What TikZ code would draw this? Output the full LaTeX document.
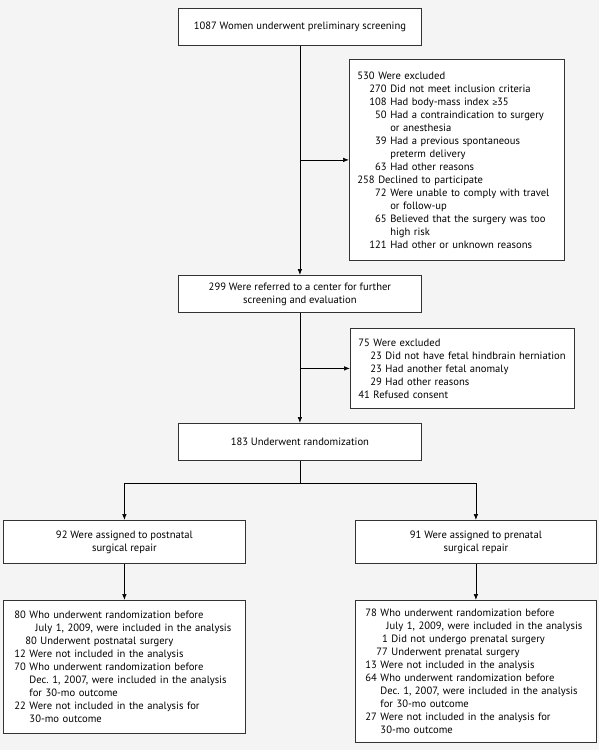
\documentclass[tikz,border=0pt]{standalone}
\usepackage{fontspec}
\setmainfont{PT Sans}
\newfontfamily\symf{Liberation Sans}
\usetikzlibrary{arrows.meta}
\definecolor{bgc}{HTML}{F4F4F4}
\definecolor{edgec}{HTML}{333333}
\newlength\numw
\newlength\subind
\setlength\subind{12pt}
\newcommand\LA[2]{\mbox{\makebox[\numw][r]{#1}\ #2}}
\newcommand\LB[2]{\mbox{\hspace*{\subind}\makebox[\numw][r]{#1}\ #2}}
\newcommand\CA[1]{\mbox{\hspace*{\numw}\ #1}}
\newcommand\CB[1]{\mbox{\hspace*{\subind}\hspace*{\numw}\ #1}}
\newcommand\CX[1]{\mbox{\hspace*{\numw}\ \hspace*{6pt}#1}}
\tikzset{
  box/.style={draw=edgec, fill=white, line width=0.8pt, inner sep=0pt,
    anchor=north west, font=\fontsize{10.6}{13}\selectfont\frenchspacing},
  cbox/.style={box, align=center},
  lbox/.style={box, align=left},
  arr/.style={draw=black, line width=0.7pt, -{Latex[length=6pt,width=4.5pt]}},
  ln/.style={draw=black, line width=0.7pt}
}
\begin{document}
\begin{tikzpicture}[x=1pt,y=-1pt]
\fill[bgc] (0,0) rectangle (599,750);
\useasboundingbox (0,0) rectangle (599,750);
% main column
\node[cbox, minimum width=243pt, minimum height=37pt] (A) at (178,8)
  {1087 Women underwent preliminary screening};
\node[lbox, minimum width=215pt, minimum height=201pt, text width=199pt, inner xsep=8pt] (E1) at (349,59)
  {\settowidth\numw{000}%
   \LA{530}{Were excluded}\\
   \LB{270}{Did not meet inclusion criteria}\\
   \LB{108}{Had body-mass index {\symf\fontsize{8.5}{13}\selectfont ≥}35}\\
   \LB{50}{Had a contraindication to surgery}\\
   \CB{or anesthesia}\\
   \LB{39}{Had a previous spontaneous}\\
   \CB{preterm delivery}\\
   \LB{63}{Had other reasons}\\
   \LA{258}{Declined to participate}\\
   \LB{72}{Were unable to comply with travel}\\
   \CB{or follow-up}\\
   \LB{65}{Believed that the surgery was too}\\
   \CB{high risk}\\
   \LB{121}{Had other or unknown reasons}};
\node[cbox, minimum width=243pt, minimum height=37pt] (B) at (178,275)
  {299 Were referred to a center for further\\screening and evaluation};
\node[lbox, minimum width=224pt, minimum height=80pt, text width=208pt, inner xsep=8pt] (E2) at (350,328)
  {\settowidth\numw{00}%
   \LA{75}{Were excluded}\\
   \LB{23}{Did not have fetal hindbrain herniation}\\
   \LB{23}{Had another fetal anomaly}\\
   \LB{29}{Had other reasons}\\
   \LA{41}{Refused consent}};
\node[cbox, minimum width=243pt, minimum height=37pt] (R) at (178,423)
  {183 Underwent randomization};
% arms
\node[cbox, minimum width=242pt, minimum height=43pt] (P1) at (3,520)
  {92 Were assigned to postnatal\\surgical repair};
\node[cbox, minimum width=241pt, minimum height=43pt] (P2) at (355,520)
  {91 Were assigned to prenatal\\surgical repair};
\node[lbox, minimum width=242pt, minimum height=133pt, text width=220pt, inner xsep=11pt] (Q1) at (3,600)
  {\settowidth\numw{00}\setlength\subind{11pt}%
   \LA{80}{Who underwent randomization before}\\
   \CX{July 1, 2009, were included in the analysis}\\
   \LB{80}{Underwent postnatal surgery}\\
   \LA{12}{Were not included in the analysis}\\
   \LA{70}{Who underwent randomization before}\\
   \CA{Dec. 1, 2007, were included in the analysis}\\
   \CA{for 30-mo outcome}\\
   \LA{22}{Were not included in the analysis for}\\
   \CA{30-mo outcome}};
\node[lbox, minimum width=241pt, minimum height=142pt, text width=221pt, inner xsep=10pt] (Q2) at (355,600)
  {\settowidth\numw{00}\setlength\subind{11pt}%
   \LA{78}{Who underwent randomization before}\\
   \CX{July 1, 2009, were included in the analysis}\\
   \LB{1}{Did not undergo prenatal surgery}\\
   \LB{77}{Underwent prenatal surgery}\\
   \LA{13}{Were not included in the analysis}\\
   \LA{64}{Who underwent randomization before}\\
   \CA{Dec. 1, 2007, were included in the analysis}\\
   \CA{for 30-mo outcome}\\
   \LA{27}{Were not included in the analysis for}\\
   \CA{30-mo outcome}};
% connectors
\coordinate (split) at (R.south |- 0,483);
\draw[arr] (A.south) -- (A.south |- B.north);
\draw[arr] (A.south |- E1.west) -- (E1.west);
\draw[arr] (B.south) -- (B.south |- R.north);
\draw[arr] (B.south |- E2.west) -- (E2.west);
\draw[ln] (R.south) -- (split);
\draw[arr] (split) -| (P1.north);
\draw[arr] (split) -| (P2.north);
\draw[arr] (P1.south) -- (Q1.north);
\draw[arr] (P2.south) -- (Q2.north);
\end{tikzpicture}
\end{document}
